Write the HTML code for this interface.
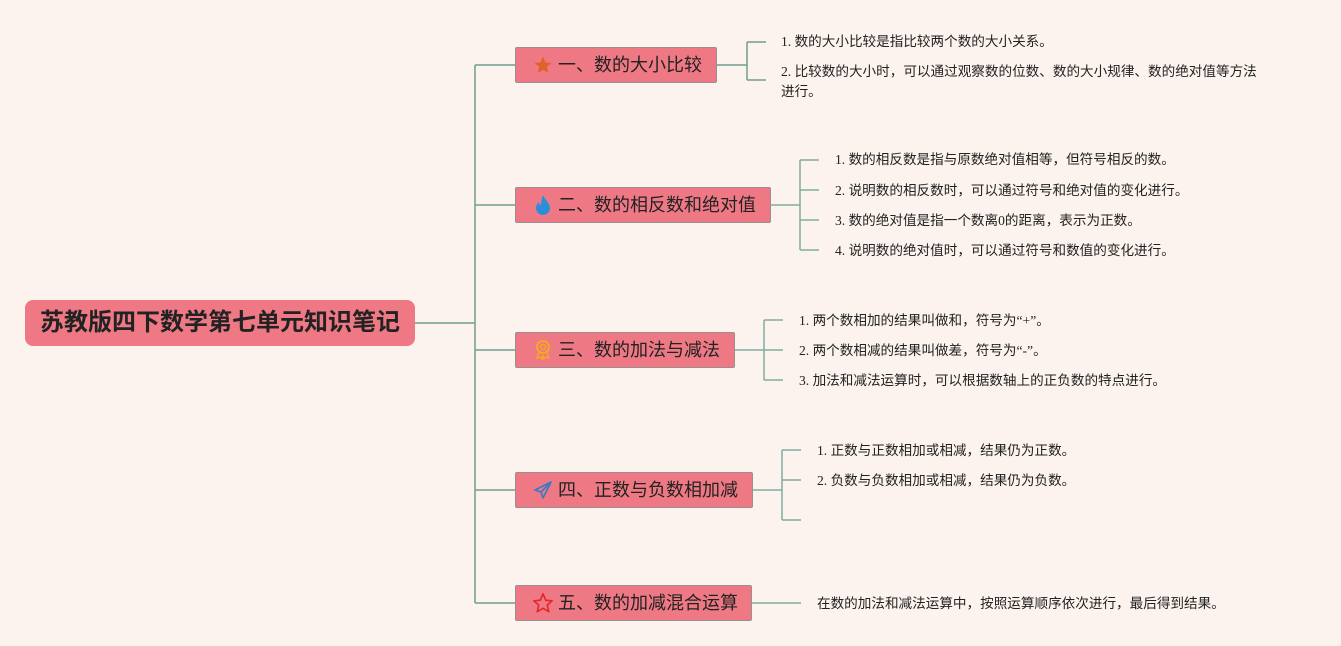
<!DOCTYPE html>
<html><head><meta charset="utf-8"><style>
body{margin:0;width:1341px;height:646px;background:#fdf3ee;position:relative;overflow:hidden;font-family:"Liberation Serif","Noto Sans CJK SC",sans-serif;}
.b{position:absolute;background:#ee7984;border:1px solid #9a8e8e;border-radius:2px;box-sizing:border-box;font-family:"Liberation Sans","Noto Sans CJK SC",sans-serif;font-size:18px;color:#222;line-height:34px;white-space:nowrap;}
.b .i{position:absolute;left:16px;top:0;width:22px;height:34px;display:flex;align-items:center;justify-content:center;}
.b .t{position:absolute;left:42px;top:0;}
.l{position:absolute;font-size:13.6px;color:#222;white-space:nowrap;line-height:20px;}
.root{position:absolute;left:25px;top:300px;width:390px;height:46px;background:#ee7984;border-radius:8px;font-family:"Liberation Sans","Noto Sans CJK SC",sans-serif;font-weight:bold;font-size:24px;color:#222;line-height:46px;text-align:center;}
</style></head><body>
<svg width="1341" height="646" style="position:absolute;left:0;top:0" fill="none" stroke="#7fae9f" stroke-width="1.5">
<path d="M414 323H475M475 65V603M475 65H515M475 205H515M475 350H515M475 490H515M475 603H515" stroke="#6f9e8f"/>
<path d="M716 65H747M747 42V80M747 42H766M747 80H766" stroke="#6f9e8f"/>
<path d="M770 205H800M800 160V250M800 160H819M800 190H819M800 220H819M800 250H819"/>
<path d="M734 350H764M764 320V380M764 320H783M764 350H783M764 380H783"/>
<path d="M752 490H782M782 450V520M782 450H801M782 480H801M782 520H801"/>
<path d="M751 603H801"/>
</svg>
<div class="root">苏教版四下数学第七单元知识笔记</div>
<div class="b" style="left:515px;top:47px;width:202px;height:36px"><span class="i"><svg width="20" height="20" viewBox="0 0 24 24"><path d="M12 2l3 7 7 .6-5.4 4.7 1.7 7.2L12 17.8 5.7 21.5l1.7-7.2L2 9.6 9 9z" fill="#e0622a"/></svg></span><span class="t">一、数的大小比较</span></div>
<div class="b" style="left:515px;top:187px;width:256px;height:36px"><span class="i"><svg width="18" height="22" viewBox="0 0 18 22"><path d="M9 1C11 6 16 9 16 14a7 7 0 0 1-14 0c0-3 2-5 3-6 0 2 1 3 2 3C7 7 8 4 9 1z" fill="#2a8fd8"/></svg></span><span class="t">二、数的相反数和绝对值</span></div>
<div class="b" style="left:515px;top:332px;width:220px;height:36px"><span class="i"><svg width="18" height="22" viewBox="0 0 18 22"><circle cx="9" cy="8" r="6" stroke="#f5a623" stroke-width="2" fill="none"/><circle cx="9" cy="8" r="2.5" stroke="#f5a623" stroke-width="1.5" fill="none"/><path d="M5 13l-2 6 3-1 2 2 1-4M13 13l2 6-3-1-2 2-1-4" stroke="#f5a623" stroke-width="1.5" fill="none"/></svg></span><span class="t">三、数的加法与减法</span></div>
<div class="b" style="left:515px;top:472px;width:238px;height:36px"><span class="i"><svg width="20" height="20" viewBox="0 0 20 20"><path d="M18 2L2 10l6 2 2 6zM8 12L18 2" stroke="#3a78c8" stroke-width="1.6" fill="none" stroke-linejoin="round"/></svg></span><span class="t">四、正数与负数相加减</span></div>
<div class="b" style="left:515px;top:585px;width:237px;height:36px"><span class="i"><svg width="24" height="24" viewBox="0 0 24 24"><path d="M12 2l3 7 7 .6-5.4 4.7 1.7 7.2L12 17.8 5.7 21.5l1.7-7.2L2 9.6 9 9z" stroke="#e8262a" stroke-width="1.8" fill="none" stroke-linejoin="round"/></svg></span><span class="t">五、数的加减混合运算</span></div>

<div class="l" style="left:781px;top:32px">1. 数的大小比较是指比较两个数的大小关系。</div>
<div class="l" style="left:781px;top:62px">2. 比较数的大小时，可以通过观察数的位数、数的大小规律、数的绝对值等方法<br>进行。</div>

<div class="l" style="left:835px;top:150px">1. 数的相反数是指与原数绝对值相等，但符号相反的数。</div>
<div class="l" style="left:835px;top:181px">2. 说明数的相反数时，可以通过符号和绝对值的变化进行。</div>
<div class="l" style="left:835px;top:211px">3. 数的绝对值是指一个数离0的距离，表示为正数。</div>
<div class="l" style="left:835px;top:241px">4. 说明数的绝对值时，可以通过符号和数值的变化进行。</div>

<div class="l" style="left:799px;top:311px">1. 两个数相加的结果叫做和，符号为“+”。</div>
<div class="l" style="left:799px;top:341px">2. 两个数相减的结果叫做差，符号为“-”。</div>
<div class="l" style="left:799px;top:371px">3. 加法和减法运算时，可以根据数轴上的正负数的特点进行。</div>

<div class="l" style="left:817px;top:441px">1. 正数与正数相加或相减，结果仍为正数。</div>
<div class="l" style="left:817px;top:471px">2. 负数与负数相加或相减，结果仍为负数。</div>

<div class="l" style="left:817px;top:594px">在数的加法和减法运算中，按照运算顺序依次进行，最后得到结果。</div>
</body></html>
